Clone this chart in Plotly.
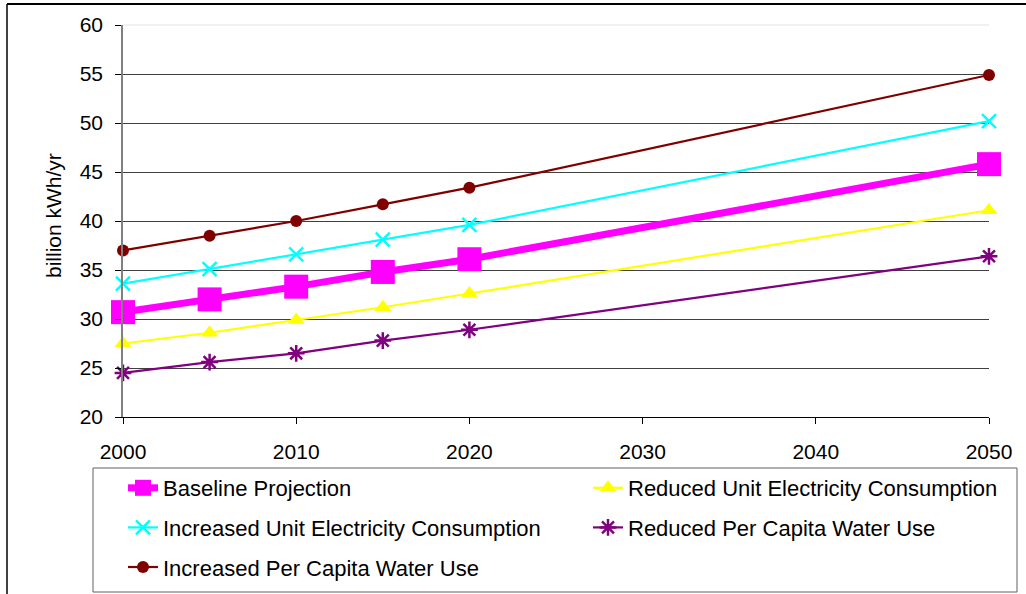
import plotly.graph_objects as go

# Projection years and scenario values (billion kWh/yr)
years = [2000, 2005, 2010, 2015, 2020, 2050]
baseline = [30.7, 32.0, 33.3, 34.8, 36.1, 45.8]
reduced_unit = [27.5, 28.6, 29.9, 31.2, 32.6, 41.1]
increased_unit = [33.6, 35.1, 36.6, 38.1, 39.6, 50.2]
reduced_per_capita = [24.5, 25.6, 26.5, 27.8, 28.9, 36.4]
increased_per_capita = [37.0, 38.5, 40.0, 41.7, 43.4, 54.9]

x_ticks = [2000, 2010, 2020, 2030, 2040, 2050]
y_ticks = [20, 25, 30, 35, 40, 45, 50, 55, 60]
y_title = "billion kWh/yr"

FONT = "Liberation Sans, Arial, sans-serif"

series = [
    # name, values, color, line width, marker symbol, marker size, legend
    ("Baseline Projection", baseline, "#FF00FF", 7, "square", 24, "legend"),
    ("Reduced Unit Electricity Consumption", reduced_unit, "#FFFF00", 2.2, "triangle-up", 15, "legend2"),
    ("Increased Unit Electricity Consumption", increased_unit, "#00FFFF", 2.2, "x-thin", 14, "legend"),
    ("Reduced Per Capita Water Use", reduced_per_capita, "#800080", 2.2, "asterisk", 14, "legend2"),
    ("Increased Per Capita Water Use", increased_per_capita, "#800000", 2.2, "circle", 12, "legend"),
]

fig = go.Figure()
for i, (name, vals, color, lw, sym, size, leg) in enumerate(series):
    open_sym = sym in ("x-thin", "asterisk")
    fig.add_trace(go.Scatter(
        x=years, y=vals, name=name, mode="lines+markers",
        line=dict(color=color, width=lw),
        marker=dict(symbol=sym, size=size, color=color,
                    line=dict(color=color, width=2.5 if open_sym else 0)),
        cliponaxis=False, legend=leg, legendgroup=f"g{i}",
    ))

legend_common = dict(
    orientation="v", xref="container", yref="container",
    xanchor="left", yanchor="top", bgcolor="rgba(0,0,0,0)",
    borderwidth=0, traceorder="grouped", tracegroupgap=8,
    font=dict(family=FONT, size=22, color="black"),
)

fig.update_layout(
    width=1026, height=594,
    margin=dict(l=123, r=37, t=25, b=177, autoexpand=False),
    paper_bgcolor="white", plot_bgcolor="white",
    font=dict(family=FONT, size=21, color="black"),
    showlegend=True,
    legend=dict(legend_common, x=123 / 1026, y=1 - 467 / 594),
    legend2=dict(legend_common, x=588 / 1026, y=1 - 467 / 594),
    xaxis=dict(
        range=[2000, 2050], tickvals=x_ticks, ticktext=[str(v) for v in x_ticks],
        showgrid=False, zeroline=False, showline=True, linecolor="black", linewidth=1,
        ticks="outside", ticklen=6, tickcolor="black", ticklabelstandoff=10,
        tickfont=dict(family=FONT, size=21, color="black"),
    ),
    yaxis=dict(
        range=[20, 60], tickvals=y_ticks,
        showgrid=True, gridcolor="#404040", gridwidth=1,
        zeroline=False, showline=True, linecolor="#808080", linewidth=1.5,
        ticks="outside", ticklen=6, tickcolor="black", ticklabelstandoff=8,
        tickfont=dict(family=FONT, size=21, color="black"),
    ),
    annotations=[
        dict(text=y_title, textangle=-90, xref="paper", yref="paper",
             x=(53 - 123) / 866, y=(417 - 216) / 392, xanchor="center", yanchor="middle",
             showarrow=False, font=dict(family=FONT, size=21, color="black")),
    ],
    shapes=[
        # faint line at the top of the value axis
        dict(type="line", xref="paper", yref="paper", x0=0, x1=1, y0=1, y1=1,
             line=dict(color="#ececec", width=1.5), layer="above"),
        # legend frame
        dict(type="rect", xref="paper", yref="paper",
             x0=(93 - 123) / 866, x1=(1017 - 123) / 866,
             y0=(417 - 592) / 392, y1=(417 - 468) / 392,
             line=dict(color="#606060", width=1)),
        # outer chart frame (top and left edges)
        dict(type="line", xref="paper", yref="paper",
             x0=(7 - 123) / 866, x1=(1030 - 123) / 866,
             y0=(417 - 4) / 392, y1=(417 - 4) / 392,
             line=dict(color="black", width=2)),
        dict(type="line", xref="paper", yref="paper",
             x0=(7 - 123) / 866, x1=(7 - 123) / 866,
             y0=(417 - 4) / 392, y1=(417 - 600) / 392,
             line=dict(color="black", width=1.5)),
    ],
)

fig.write_html("out.html")
